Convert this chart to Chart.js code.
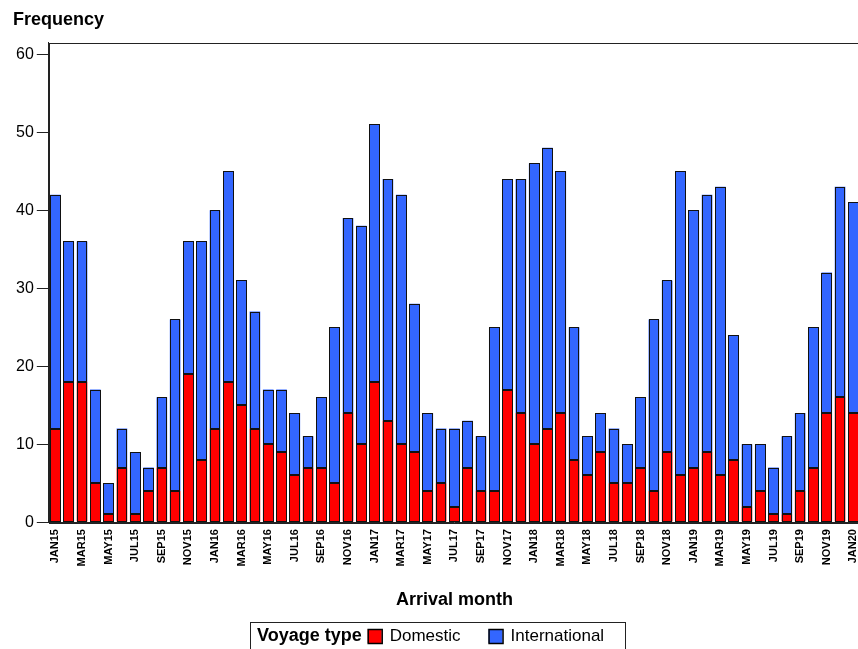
<!DOCTYPE html>
<html>
<head>
<meta charset="utf-8">
<script src="https://cdn.jsdelivr.net/npm/chart.js@4.4.0/dist/chart.umd.min.js"></script>
<style>
  html, body { margin: 0; padding: 0; background: #fff; overflow: hidden; }
  #wrap { width: 874px; height: 649px; }
</style>
</head>
<body>
<div id="wrap"><canvas id="voyageChart"></canvas></div>
<script>
// Arrival months, JAN15 .. JAN20
const months = [
    'JAN15', 'FEB15', 'MAR15', 'APR15', 'MAY15', 'JUN15', 'JUL15', 'AUG15', 'SEP15', 'OCT15', 'NOV15', 'DEC15',
    'JAN16', 'FEB16', 'MAR16', 'APR16', 'MAY16', 'JUN16', 'JUL16', 'AUG16', 'SEP16', 'OCT16', 'NOV16', 'DEC16',
    'JAN17', 'FEB17', 'MAR17', 'APR17', 'MAY17', 'JUN17', 'JUL17', 'AUG17', 'SEP17', 'OCT17', 'NOV17', 'DEC17',
    'JAN18', 'FEB18', 'MAR18', 'APR18', 'MAY18', 'JUN18', 'JUL18', 'AUG18', 'SEP18', 'OCT18', 'NOV18', 'DEC18',
    'JAN19', 'FEB19', 'MAR19', 'APR19', 'MAY19', 'JUN19', 'JUL19', 'AUG19', 'SEP19', 'OCT19', 'NOV19', 'DEC19',
    'JAN20'
];

// Voyages per month by type
const domestic = [
    12, 18, 18, 5, 1, 7, 1, 4, 7, 4, 19, 8,
    12, 18, 15, 12, 10, 9, 6, 7, 7, 5, 14, 10,
    18, 13, 10, 9, 4, 5, 2, 7, 4, 4, 17, 14,
    10, 12, 14, 8, 6, 9, 5, 5, 7, 4, 9, 6,
    7, 9, 6, 8, 2, 4, 1, 1, 4, 7, 14, 16,
    14
];
const international = [
    30, 18, 18, 12, 4, 5, 8, 3, 9, 22, 17, 28,
    28, 27, 16, 15, 7, 8, 8, 4, 9, 20, 25, 28,
    33, 31, 32, 19, 10, 7, 10, 6, 7, 21, 27, 30,
    36, 36, 31, 17, 5, 5, 7, 5, 9, 22, 22, 39,
    33, 33, 37, 16, 8, 6, 6, 10, 10, 18, 18, 27,
    27
];

const yTicks = [0, 10, 20, 30, 40, 50, 60];
const seriesNames = ['Domestic', 'International'];
const seriesColors = ['#ff0000', '#3366ff'];

const FONT = '"Liberation Sans", Arial, sans-serif';

// Crisp black outline on every bar segment, plus the frame round the plot area
const outlinePlugin = {
    id: 'outline',
    afterDatasetsDraw(chart) {
        const { ctx, chartArea: a } = chart;
        ctx.save();
        ctx.strokeStyle = '#111';
        ctx.lineWidth = 1;
        chart.data.datasets.forEach((ds, i) => {
            chart.getDatasetMeta(i).data.forEach(bar => {
                const p = bar.getProps(['x', 'y', 'base', 'width'], true);
                const l = Math.round(p.x - p.width / 2) + 0.5;
                const r = Math.round(p.x + p.width / 2) - 0.5;
                const t = Math.round(Math.min(p.y, p.base)) + 0.5;
                const b = Math.round(Math.max(p.y, p.base)) - 0.5;
                ctx.strokeRect(l, t, r - l, b - t);
            });
        });
        ctx.strokeStyle = '#222';
        ctx.strokeRect(Math.round(a.left) + 0.5, Math.round(a.top) + 0.5,
            Math.round(a.right - a.left), Math.round(a.bottom - a.top));
        ctx.restore();
    }
};

// Legend box: "Voyage type [■] Domestic [■] International"
const legendBoxPlugin = {
    id: 'legendBox',
    afterDraw(chart) {
        const ctx = chart.ctx;
        const top = chart.height - 27;
        const left = chart.width / 2 - 187;
        const w = 375;
        ctx.save();
        ctx.strokeStyle = '#222';
        ctx.lineWidth = 1;
        ctx.strokeRect(left + 0.5, top + 0.5, w, 40);
        ctx.textBaseline = 'middle';
        ctx.fillStyle = '#000';
        const midY = top + 14;
        let x = left + 7;
        ctx.font = 'bold 18px ' + FONT;
        ctx.fillText('Voyage type', x, midY);
        x += ctx.measureText('Voyage type').width + 6;
        ctx.font = '17px ' + FONT;
        chart.data.datasets.forEach((ds, i) => {
            ctx.fillStyle = ds.backgroundColor;
            ctx.fillRect(x, midY - 7, 14, 14);
            ctx.strokeStyle = '#000';
            ctx.lineWidth = 1.5;
            ctx.strokeRect(x + 0.5, midY - 7 + 0.5, 14, 14);
            ctx.fillStyle = '#000';
            ctx.fillText(ds.label, x + 22, midY);
            x += 22 + ctx.measureText(ds.label).width + 28;
        });
        ctx.restore();
    }
};

const ctx = document.getElementById('voyageChart').getContext('2d');
new Chart(ctx, {
    type: 'bar',
    data: {
        labels: months,
        datasets: [
            {
                label: seriesNames[0],
                data: domestic,
                backgroundColor: seriesColors[0],
                borderWidth: 0,
                barPercentage: 0.8,
                categoryPercentage: 1
            },
            {
                label: seriesNames[1],
                data: international,
                backgroundColor: seriesColors[1],
                borderWidth: 0,
                barPercentage: 0.8,
                categoryPercentage: 1
            }
        ]
    },
    options: {
        responsive: true,
        maintainAspectRatio: false,
        animation: false,
        layout: { padding: { left: 13, right: 14, top: 0, bottom: 30 } },
        plugins: {
            legend: { display: false },
            tooltip: { enabled: false },
            title: {
                display: true,
                text: 'Frequency',
                align: 'start',
                color: '#000',
                font: { family: FONT, size: 18, weight: 'bold' },
                padding: { top: 9, bottom: 12 }
            }
        },
        scales: {
            x: {
                stacked: true,
                grid: { display: false },
                border: { display: true, color: '#222' },
                ticks: {
                    autoSkip: false,
                    minRotation: 90,
                    maxRotation: 90,
                    padding: -1,
                    color: '#000',
                    font: { family: FONT, size: 11, weight: 'bold' },
                    callback: function (value, index) {
                        return index % 2 === 0 ? this.getLabelForValue(value) : '';
                    }
                },
                title: {
                    display: true,
                    text: 'Arrival month',
                    color: '#000',
                    font: { family: FONT, size: 18, weight: 'bold' },
                    padding: { top: 24, bottom: 8 }
                }
            },
            y: {
                stacked: true,
                min: 0,
                max: 61.5,
                afterBuildTicks: axis => {
                    axis.ticks = yTicks.map(v => ({ value: v }));
                },
                grid: {
                    display: true,
                    drawOnChartArea: false,
                    drawTicks: true,
                    tickLength: 12,
                    tickColor: '#222'
                },
                border: { display: true, color: '#222' },
                ticks: {
                    padding: 3,
                    color: '#000',
                    font: { family: FONT, size: 16 }
                }
            }
        }
    },
    plugins: [outlinePlugin, legendBoxPlugin]
});
</script>
</body>
</html>
